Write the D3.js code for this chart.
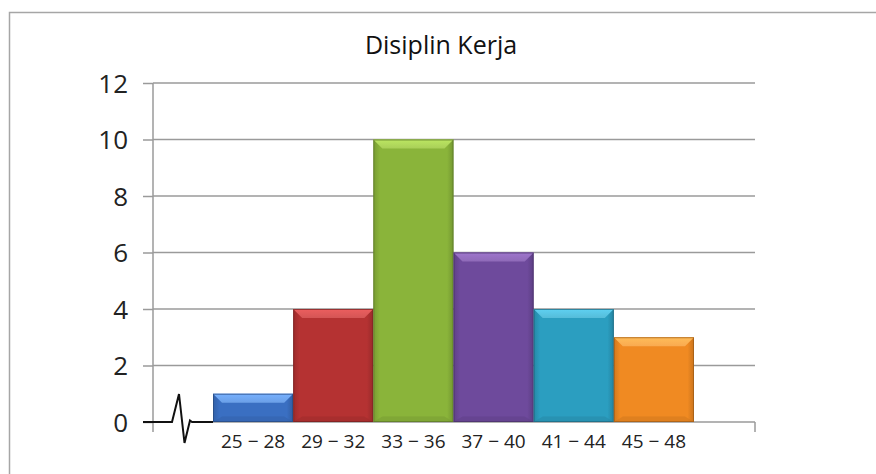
<!DOCTYPE html>
<html>
<head>
<meta charset="utf-8">
<script src="https://cdn.jsdelivr.net/npm/d3@7"></script>
<style>
  html, body { margin: 0; padding: 0; background: #fff; }
  svg { display: block; }
</style>
</head>
<body>
<svg id="chart" width="876" height="474"></svg>
<script>
const title = "Disiplin Kerja";
const categories = ["25 − 28", "29 − 32", "33 − 36", "37 − 40", "41 − 44", "45 − 48"];
const values = [1, 4, 10, 6, 4, 3];
const yTicks = [0, 2, 4, 6, 8, 10, 12];
const barColors = ["#3a6fc2", "#b53232", "#8ab43a", "#6e4a9c", "#2b9ec0", "#f08a22"];
const topColors = ["#6b9fe6", "#d45555", "#a9cf58", "#8f6ab8", "#55bcd9", "#f9aa50"];

const svg = d3.select("#chart");
const W = 876, H = 474;

// frame
svg.append("rect").attr("x", 0).attr("y", 0).attr("width", W).attr("height", H).attr("fill", "#fff");
svg.append("rect").attr("x", 9.5).attr("y", 12.5).attr("width", W + 20).attr("height", H + 20)
  .attr("fill", "none").attr("stroke", "#a6a6a6").attr("stroke-width", 1.5);

const y = d3.scaleLinear().domain([0, 12]).range([422, 83]);
const x = d3.scaleBand().domain(categories).range([213, 694]).padding(0);
const axisLeftX = 153, axisRightX = 755;

// title
svg.append("text").attr("x", 441).attr("y", 54).attr("text-anchor", "middle")
  .attr("font-family", "'Open Sans', sans-serif").attr("font-size", 25).attr("fill", "#111")
  .text(title);

// gridlines
svg.append("g").selectAll("line").data(yTicks.filter(d => d > 0)).join("line")
  .attr("x1", axisLeftX).attr("x2", axisRightX)
  .attr("y1", d => y(d)).attr("y2", d => y(d))
  .attr("stroke", "#9a9a9a").attr("stroke-width", 1.5);

// y axis
const yAxis = d3.axisLeft(y).tickValues(yTicks).tickSize(10).tickPadding(15).tickFormat(d3.format("d"));
const gy = svg.append("g").attr("transform", `translate(${axisLeftX},0)`).call(yAxis);
gy.select(".domain").attr("stroke", "#9a9a9a").attr("stroke-width", 1.5).attr("d", `M0,${y(12)}V432`);
gy.selectAll(".tick line").attr("stroke", "#9a9a9a").attr("stroke-width", 1.5);
gy.selectAll(".tick text").attr("font-family", "'Open Sans', sans-serif").attr("font-size", 26).attr("fill", "#222")
  .attr("dy", "0.36em");

// x axis line (right part) and end tick
svg.append("line").attr("x1", x.range()[0]).attr("x2", axisRightX).attr("y1", y(0)).attr("y2", y(0))
  .attr("stroke", "#9a9a9a").attr("stroke-width", 1.5);
svg.append("line").attr("x1", axisRightX).attr("x2", axisRightX).attr("y1", y(0)).attr("y2", 432)
  .attr("stroke", "#9a9a9a").attr("stroke-width", 1.5);

// break symbol
const y0 = y(0);
const breakPath = d3.line()([
  [axisLeftX - 10, y0], [172, y0], [179, y0 - 28], [184.5, y0 + 21], [190, y0 - 1.5], [192, y0], [x.range()[0], y0]
]);
svg.append("path").attr("d", breakPath).attr("fill", "none").attr("stroke", "#111")
  .attr("stroke-width", 2).attr("stroke-linejoin", "miter");

// gradients
const defs = svg.append("defs");
categories.forEach((c, i) => {
  const g = defs.append("linearGradient").attr("id", "body" + i).attr("x1", 0).attr("x2", 1).attr("y1", 0).attr("y2", 0);
  const base = d3.color(barColors[i]);
  g.append("stop").attr("offset", "0%").attr("stop-color", base.darker(0.4));
  g.append("stop").attr("offset", "8%").attr("stop-color", base);
  g.append("stop").attr("offset", "92%").attr("stop-color", base);
  g.append("stop").attr("offset", "100%").attr("stop-color", base.darker(0.5));
  const t = defs.append("linearGradient").attr("id", "top" + i).attr("x1", 0).attr("x2", 0).attr("y1", 0).attr("y2", 1);
  t.append("stop").attr("offset", "0%").attr("stop-color", d3.color(topColors[i]).brighter(0.3));
  t.append("stop").attr("offset", "100%").attr("stop-color", topColors[i]);
});

// bars
const bevel = 9;
const bars = svg.append("g").selectAll("g").data(values).join("g");
bars.append("rect")
  .attr("x", (d, i) => x(categories[i])).attr("y", d => y(d))
  .attr("width", x.bandwidth()).attr("height", d => y(0) - y(d))
  .attr("fill", (d, i) => `url(#body${i})`);
bars.append("path")
  .attr("d", (d, i) => {
    const x0 = x(categories[i]), x1 = x0 + x.bandwidth(), yt = y(d);
    const b = Math.min(bevel, (y(0) - yt) / 2);
    return `M${x0},${yt}L${x1},${yt}L${x1 - b},${yt + b}L${x0 + b},${yt + b}Z`;
  })
  .attr("fill", (d, i) => `url(#top${i})`);
bars.append("path")
  .attr("d", (d, i) => {
    const x0 = x(categories[i]), x1 = x0 + x.bandwidth(), yt = y(d), yb = y(0);
    const b = Math.min(bevel, (yb - yt) / 2);
    return `M${x0},${yb}L${x1},${yb}L${x1 - b},${yb - b * 0.6}L${x0 + b},${yb - b * 0.6}Z`;
  })
  .attr("fill", (d, i) => d3.color(barColors[i]).darker(0.35)).attr("opacity", 0.6);
bars.append("rect")
  .attr("x", (d, i) => x(categories[i]) + 0.5).attr("y", d => y(d) + 0.5)
  .attr("width", x.bandwidth() - 1).attr("height", d => y(0) - y(d) - 1)
  .attr("fill", "none").attr("stroke", (d, i) => d3.color(barColors[i]).darker(1.2)).attr("stroke-width", 1)
  .attr("stroke-opacity", 0.7);

// x labels
svg.append("g").selectAll("text").data(categories).join("text")
  .attr("x", d => x(d) + x.bandwidth() / 2).attr("y", 448)
  .attr("text-anchor", "middle")
  .attr("font-family", "'Open Sans', sans-serif").attr("font-size", 19).attr("fill", "#222")
  .text(d => d);
</script>
</body>
</html>
